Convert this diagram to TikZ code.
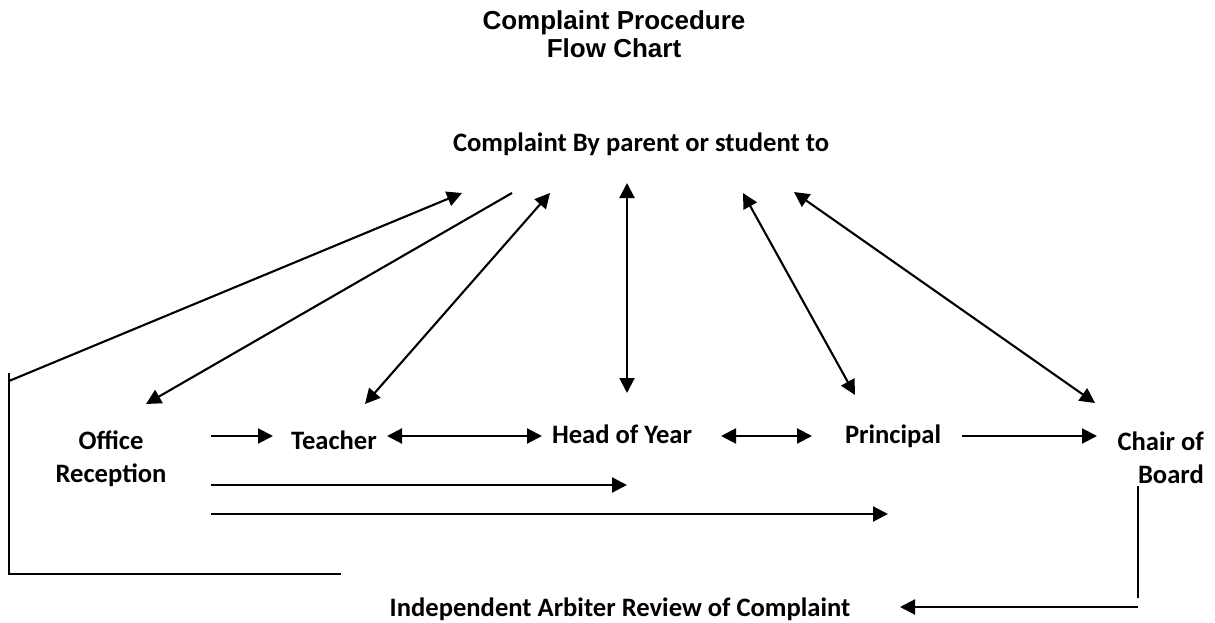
\documentclass[tikz,border=0pt]{standalone}
\usepackage{fontspec}
\setmainfont{Carlito}
\newfontfamily\titlefont{Liberation Sans}
\usetikzlibrary{arrows.meta}
\begin{document}
\begin{tikzpicture}[x=1pt,y=-1pt,
  lbl/.style={font=\bfseries\fontsize{26.6}{33}\selectfont, inner sep=0pt, align=center},
  ttl/.style={font=\titlefont\bfseries\fontsize{26}{28}\selectfont, inner sep=0pt, align=center},
  tip/.style={},
  conn/.style={line width=2.1pt, -{Triangle[length=15pt,width=15pt]}},
  dconn/.style={line width=2.1pt, {Triangle[length=15pt,width=15pt]}-{Triangle[length=15pt,width=15pt]}},
  plain/.style={line width=1.9pt}]
\useasboundingbox[fill=white] (0,0) rectangle (1215,623);

% texts
\node[ttl] (title) at (614,34) {Complaint Procedure\\Flow Chart};
\node[lbl, anchor=base] (src) at (641,152) {Complaint By parent or student to};
\node[lbl] (office) at (111,459) {Office\\Reception};
\node[lbl, anchor=base] (teacher) at (334,449) {Teacher};
\node[lbl, anchor=base] (head) at (622,443) {Head of Year};
\node[lbl, anchor=base] (principal) at (893,443) {Principal};
\node[lbl, align=right, anchor=east] (chair) at (1204,458) {Chair of\\Board};
\node[lbl, anchor=base] (arbiter) at (620,616) {Independent Arbiter Review of Complaint};

% coordinates
\coordinate (b1) at (9,373);
\coordinate (b2) at (9,381);
\coordinate (b3) at (9,574);
\coordinate (b4) at (341,574);
\coordinate (t0) at (462,193);
\coordinate (o1) at (512,193);
\coordinate (o2) at (146,404);
\coordinate (t1) at (550,193);
\coordinate (t2) at (365,404);
\coordinate (h1) at (627,183);
\coordinate (h2) at (627,393);
\coordinate (p1) at (743,193);
\coordinate (p2) at (855,395);
\coordinate (c1) at (794,192);
\coordinate (c2) at (1095,403);
\coordinate (r1s) at (211,436);
\coordinate (r1e) at (273,436);
\coordinate (th1) at (387,436);
\coordinate (th2) at (542,436);
\coordinate (hp1) at (721,436);
\coordinate (hp2) at (812,436);
\coordinate (pc1) at (962,436);
\coordinate (pc2) at (1097,436);
\coordinate (r2s) at (211,485);
\coordinate (r2e) at (627,485);
\coordinate (r3s) at (211,514);
\coordinate (r3e) at (888,514);
\coordinate (cd1) at (1138,486);
\coordinate (cd2) at (1138,598);
\coordinate (cd3) at (1138,607);
\coordinate (cd4) at (900,607);

% left bracket
\draw[plain] (b1) -- (b3) -- (b4);
\draw[conn] (b2) -- (t0);
% radiating arrows
\draw[conn] (o1) -- (o2);
\draw[dconn] (t1) -- (t2);
\draw[dconn] (h1) -- (h2);
\draw[dconn] (p1) -- (p2);
\draw[dconn] (c1) -- (c2);
% row arrows
\draw[conn] (r1s) -- (r1e);
\draw[dconn] (th1) -- (th2);
\draw[dconn] (hp1) -- (hp2);
\draw[conn] (pc1) -- (pc2);
\draw[conn] (r2s) -- (r2e);
\draw[conn] (r3s) -- (r3e);
% chair to arbiter
\draw[plain] (cd1) -- (cd2);
\draw[conn] (cd3) -- (cd4);
\end{tikzpicture}
\end{document}
